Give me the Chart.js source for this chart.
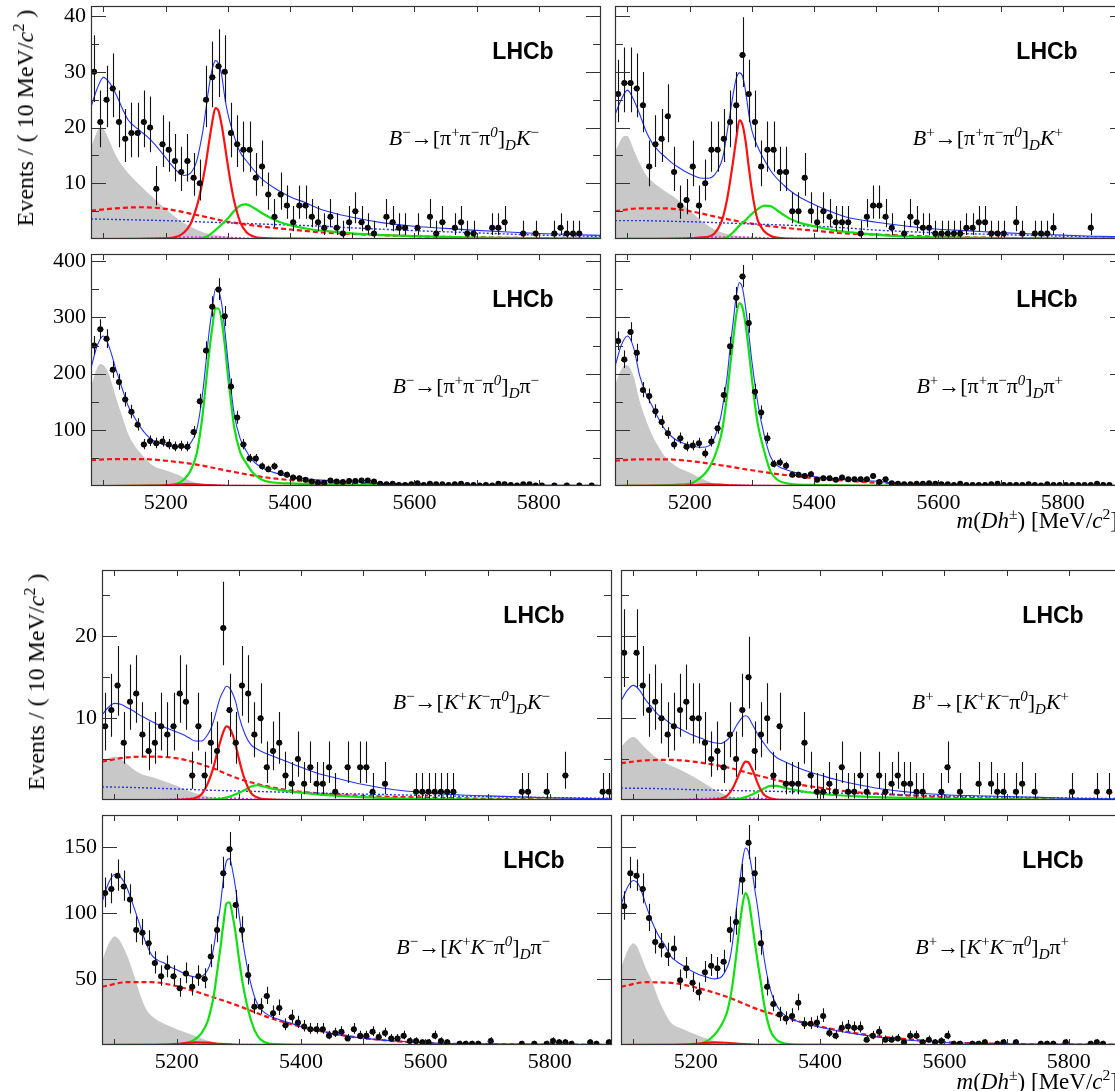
<!DOCTYPE html>
<html><head><meta charset="utf-8">
<script src="https://cdn.jsdelivr.net/npm/chart.js@4.4.1/dist/chart.umd.min.js"></script>
<style>
html,body{margin:0;padding:0;background:#fff;}
body{width:1115px;height:1091px;overflow:hidden;position:relative;}
canvas{position:absolute;}
.t{position:absolute;font-family:'Liberation Serif','Times New Roman',serif;font-size:22px;color:#000;white-space:nowrap;line-height:26px;}
.t sup{font-size:68%;vertical-align:0.55em;line-height:0;}
.t sub{font-size:68%;vertical-align:-0.35em;line-height:0;}
.big{font-size:24px;}
.mid{font-size:23px;}
.lhcb{position:absolute;font-family:'Liberation Sans',Arial,sans-serif;font-weight:bold;font-size:23px;color:#000;transform:translate(-50%,-50%);white-space:nowrap;}
.ytitle{transform:translate(-50%,-50%) rotate(-90deg);}
.rt{transform:translate(-100%,-50%);}
</style></head><body>
<script>
// ---------------- DATA ----------------
const binCenters = [5085,5095,5105,5115,5125,5135,5145,5155,5165,5175,5185,5195,5205,5215,5225,5235,5245,5255,5265,5275,5285,5295,5305,5315,5325,5335,5345,5355,5365,5375,5385,5395,5405,5415,5425,5435,5445,5455,5465,5475,5485,5495,5505,5515,5525,5535,5545,5555,5565,5575,5585,5595,5605,5615,5625,5635,5645,5655,5665,5675,5685,5695,5705,5715,5725,5735,5745,5755,5765,5775,5785,5795,5805,5815,5825,5835,5845,5855,5865,5875,5885,5895];
const xTickValues = [5100,5200,5300,5400,5500,5600,5700,5800];
const xLabelValues = [5200,5400,5600,5800];

// event counts per 10 MeV bin (null = empty bin)
const p1Counts = [30,21,25,27,21,18,19,19,21,20, 9,17,16,14,12,14,11,10,25,29, 31,30,19,17,16,16,11,13,8,4, 8,6,3,6,6,4,3,2,4,2, 1,3,5,3,2,1,null,4,3,2, 2,null,2,null,4,1,3,null,2,3, 1,1,null,null,2,2,3,null,null,1, null,1,null,null,1,2,1,1,1,null, null,null];
const p2Counts = [26,28,28,27,24,13,17,18,22,12, 6,7,13,6,10,16,16,18,21,24, 33,26,21,13,16,16,12,12,5,5, 11,5,3,5,4,3,3,3,null,1, 4,6,6,4,2,null,1,4,3,2, 2,1,1,1,1,1,2,2,3,3, 1,1,1,null,3,1,null,1,1,1, 2,null,null,null,null,null,2,null,null,null, null,null];
const p3Counts = [250,279,262,207,185,154,132,109,74,80, 76,79,74,70,71,70,96,151,241,319, 350,302,177,122,74,49,49,35,30,35, 23,20,15,14,11,8,6,6,10,8, 7,9,9,10,10,8,4,3,4,2, 2,3,5,2,4,3,3,2,3,4, 2,2,1,2,1,4,3,2,1,3, 3,1,1,null,1,null,1,null,1,null, 1,null];
const p4Counts = [258,225,274,237,171,160,133,114,94,74, 85,70,72,76,58,79,103,162,249,335, 373,290,168,131,85,39,42,36,20,20, 18,21,11,14,14,11,15,12,12,12, 12,18,7,12,5,4,3,3,4,4, 5,4,3,3,2,4,2,2,2,2, 3,4,2,2,2,2,3,2,1,3, 2,2,2,2,2,2,2,4,2,2, null,null];
const p5Counts = [9,11,14,7,12,13,8,6,7,9, 8,9,13,12,3,9,3,7,6,21, 11,7,14,13,8,10,4,6,7,3, 2,5,2,4,2,2,4,1,null,4, null,4,4,1,null,2,null,null,null,null, 1,1,1,1,1,1,1,null,null,null, null,null,null,null,null,null,null,1,1,null, null,1,null,null,3,null,null,null,null,null, 1,1];
const p6Counts = [18,null,18,14,11,12,10,8,9,11, 12,10,10,7,5,6,4,8,5,11, 15,6,8,10,3,9,2,2,2,7, 3,1,1,2,1,4,1,1,3,1, null,3,1,2,3,2,2,1,1,null, null,1,4,null,1,null,null,2,null,2, 1,1,null,1,2,null,1,null,null,null, null,null,1,null,null,null,1,null,1,null, null,null];
const p7Counts = [115,118,128,120,110,87,85,77,62,52, 59,52,43,54,44,52,50,67,87,130, 148,106,87,53,29,29,37,24,28,15, 21,17,14,12,12,12,7,9,10,5, 12,7,7,10,6,9,5,5,7,3, 3,2,2,7,3,2,null,1,1,1, 1,null,3,null,null,null,null,1,null,1, null,1,3,2,2,1,null,null,2,1, null,2];
const p8Counts = [105,130,128,118,96,78,75,68,73,49, 58,47,40,55,60,58,63,87,93,125, 153,130,77,44,31,23,20,22,32,16, 16,17,22,9,7,13,14,13,13,4, 7,10,4,4,5,2,7,7,2,4, 2,3,7,1,1,null,1,1,2,null, 1,2,null,2,null,null,null,1,1,1, null,2,null,null,null,1,2,1,null,null, null,null];

// fit curves at these masses
const curveX = [5080,5090,5100,5110,5120,5130,5140,5150,5160,5170,5180,5190,5200,5210,5220,5230,5240,5250,5255,5260,5265,5270,5275,5280,5285,5290,5295,5300,5310,5320,5330,5340,5350,5360,5380,5400,5425,5450,5500,5550,5600,5650,5700,5750,5800,5850,5900];
const p1Total = [23.7,27,29,28,26,23.5,21.3,20.2,19.3,18.4,17.3,16,14.6,13.2,12,11.4,11.8,14, 16.5,19.5,23.5,27.5,30.5,32,31.5,29.5,25.5,22.5, 18.5,15.5,14,12.6,11.3,10.3, 8.8,7.6, 6.5,5.3, 3.9,2.9,2.3,1.9,1.55,1.25,1.0,0.8,0.65];
const p2Total = [22.3,25,26.7,25,22.3,19.3,17.2,15.8,14.8,13.8,13.0,12.3,11.7,11.2,10.9,10.9,11.5,13.5, 15.5,19,22.5,26,28.8,29.8,29.2,26.5,22.5,19.5, 16.4,14.2,12.3,10.9,9.8,8.8, 7.3,6.2, 5.0,4.0, 3.0,2.3,1.75,1.45,1.15,0.9,0.7,0.5,0.4];
const p3Total = [210,250,267,245,208,174,142,122,104,90,81,76,73,71,70,70,76,100, 130,170,222,275,315,350,348,325,280,225, 130,84,62,45,36,30, 22,17, 13,10.5, 7.5,4.5,3.3,2.6,2.0,1.6,1.3,1.1,1.0];
const p4Total = [213,250,267,246,195,164,142,120,101,89,81,76,73,70,69,71,86,123, 155,192,245,292,338,362,352,318,272,223, 145,90,52,37,31,27, 21,17, 13.5,11, 8.5,3.2,2.4,2.1,1.8,1.6,1.4,1.3,1.2];
const p5Total = [10.4,11.3,11.8,11.7,11.3,10.9,10.4,10.0,9.6,9.2,8.9,8.6,8.3,8.0,7.6,7.2,7.2,8.0, 8.7,9.8,11.2,12.5,13.3,13.9,13.7,13.0,12.0,10.3, 8.0,6.7,6.2,5.8,5.5,5.2, 4.6,4.0, 3.3,2.8, 1.9,1.25,0.9,0.65,0.5,0.38,0.28,0.2,0.14];
const p6Total = [12.1,13.4,14.0,13.4,12.2,11.3,10.4,9.9,9.3,8.9,8.5,8.1,7.8,7.5,7.2,7.0,6.9,7.3, 7.7,8.3,9.0,9.6,10.1,10.3,10.1,9.4,8.7,8.0, 6.9,5.9,5.2,4.8,4.45,4.1, 3.5,3.05, 2.5,2.05, 1.35,0.92,0.65,0.52,0.42,0.32,0.22,0.15,0.1];
const p7Total = [108,122,129,127,119,106,92,78,68,64,62,59,57,54.5,52.5,51.5,52,57, 63,75,90,104,125,139,141,132,118,100, 68,45,31,25,22,20, 17,14, 11.2,8.6, 5.2,3.0,1.6,1.1,0.9,0.75,0.65,0.55,0.5];
const p8Total = [106,119,124.5,120,106,93,83,76,67,63,60,57,54.5,52.5,51,50,51,58, 65,80,101,120,138,149,146,134,118,103, 66,42,30,24,20.5,18.5, 15.5,13.5, 11,9, 5.6,3.4,1.9,1.3,1.0,0.8,0.7,0.6,0.5];

const sigGrid = [5080,5200,5220,5230,5240,5250,5255,5260,5265,5270,5275,5280,5285,5290,5295,5300,5305,5310,5320,5330,5340,5360,5400,5500,5900];
const p1Sig = [0,0.1,0.5,1.2,2.7,5.8,8.0,10.7,13.8,17.5,21.0,23.5,23.0,20.5,17.0,13.2,9.8,6.9,3.0,1.2,0.5,0.15,0.05,0,0];
const p2Sig = [0,0.1,0.3,0.4,1.0,2.8,4.5,7.0,10.3,14.0,18.0,21.3,20.5,17.5,13.0,8.8,5.5,3.2,1.4,0.6,0.25,0.08,0.02,0,0];
const p3Sig = [0,1,5,12,27,58,90,132,185,238,282,316,316,295,252,198,150,106,60,40,24,9,4.5,1.5,0];
const p4Sig = [0,4,17,30,52,87,118,160,212,260,305,325,318,287,242,193,145,108,62,26,12,4,2,0.5,0];
const p5Sig = [0,0,0.1,0.25,0.7,2.0,3.0,4.2,5.7,7.1,8.3,9.0,8.8,8.0,6.7,5.1,3.6,2.4,0.8,0.3,0.1,0.03,0,0,0];
const p6Sig = [0,0,0,0.05,0.15,0.5,0.9,1.5,2.3,3.2,4.1,4.7,4.6,3.9,3.0,2.0,1.2,0.65,0.2,0.06,0.02,0,0,0,0];
const p7Sig = [0,0.3,2,4.5,9,18,27,38,55,72,91,107,108,98,84,66,50,37,18,7,2.5,0.6,0.1,0,0];
const p8Sig = [0,0.5,3.5,7.5,14,24,34,48,67,87,105,115,110,95,78,62,47,31,11,4,1.5,0.3,0.1,0,0];

const misGrid = [5080,5240,5260,5270,5280,5290,5300,5310,5320,5330,5340,5350,5360,5380,5400,5430,5460,5500,5550,5600,5700,5900];
const p1Mis = [0,0,0.2,0.7,1.6,2.6,3.7,5.0,6.0,6.2,5.7,5.0,4.3,3.2,2.5,1.8,1.4,1.0,0.7,0.5,0.25,0.1];
const p2Mis = [0,0,0.3,1.2,2.4,3.4,4.5,5.4,6.0,5.9,5.2,4.4,3.7,2.8,2.3,1.6,1.2,0.8,0.45,0.3,0.15,0.05];
const p5Mis = [0,0,0.05,0.15,0.3,0.55,0.85,1.25,1.65,1.8,1.65,1.45,1.3,1.05,0.9,0.65,0.5,0.35,0.2,0.12,0.06,0.02];
const p6Mis = [0,0,0.05,0.15,0.35,0.65,1.0,1.4,1.72,1.72,1.55,1.38,1.2,0.95,0.78,0.58,0.45,0.33,0.22,0.15,0.07,0.02];

const combGrid = [5080,5120,5160,5200,5250,5300,5350,5400,5450,5500,5600,5700,5800,5900];
const p1Comb = [5.1,5.5,5.7,5.4,4.3,3.1,2.3,1.7,1.2,0.9,0.5,0.3,0.15,0.1];
const p2Comb = [5.0,5.5,5.5,5.0,3.8,2.75,2.05,1.5,1.0,0.8,0.4,0.2,0.1,0.05];
const p3Comb = [46,48,48,45,38,27,17,10.5,7,4.5,2,1,0.5,0.3];
const p4Comb = [45,47.5,47.5,44.5,37,28,20,14,9.5,6,2.5,1.2,0.7,0.4];
const p5Comb = [4.7,5.2,5.3,5.1,4.1,2.6,1.6,1.0,0.7,0.5,0.3,0.15,0.08,0.05];
const p6Comb = [4.5,4.85,4.9,4.65,4.0,3.0,2.1,1.5,1.0,0.75,0.33,0.15,0.08,0.04];
const p7Comb = [44,47.5,47.5,44.5,37.5,29.5,20.5,13.8,8.8,5.2,1.5,0.6,0.3,0.15];
const p8Comb = [44,47.5,47,43.5,36.5,27,20,14,9.5,6.3,2.2,0.8,0.4,0.2];

const p1Dot = [3.6,3.5,3.4,3.3,3.1,2.9,2.7,2.5,2.3,2.0,1.5,1.1,0.7,0.45];
const p2Dot = [3.3,3.3,3.2,3.1,2.9,2.7,2.5,2.3,2.0,1.6,1.1,0.8,0.5,0.3];
const p3Dot = [0.5,0.5,0.5,0.5,0.5,0.5,0.4,0.4,0.4,0.3,0.3,0.2,0.2,0.2];
const p4Dot = [0.5,0.5,0.5,0.5,0.5,0.5,0.4,0.4,0.4,0.3,0.3,0.2,0.2,0.2];
const p5Dot = [1.6,1.55,1.45,1.35,1.2,1.1,1.0,0.9,0.8,0.72,0.55,0.4,0.3,0.2];
const p6Dot = [1.45,1.42,1.35,1.25,1.17,1.1,1.02,0.92,0.8,0.7,0.5,0.36,0.25,0.15];
const p7Dot = [0.3,0.3,0.3,0.3,0.3,0.3,0.3,0.2,0.2,0.2,0.2,0.1,0.1,0.1];
const p8Dot = [0.3,0.3,0.3,0.3,0.3,0.3,0.3,0.2,0.2,0.2,0.2,0.1,0.1,0.1];

const prGrid = [5080,5085,5090,5095,5100,5105,5110,5120,5130,5140,5150,5160,5180,5200,5220,5240,5260,5280,5300,5320];
const p1PR = [16.3,18,19.3,20,19.8,18.8,17.5,15,13.2,11.8,10.6,9.5,7.4,5.4,3.6,2.2,1.2,0.7,0.4,0];
const p2PR = [15.5,16.8,17.9,18.5,18.5,17.5,16.0,13.5,11.5,10.3,9.4,8.6,7.1,5.1,3.2,1.7,0.9,0.5,0.25,0];
const p3PR = [175,195,210,217,215,208,195,158,124,92,72,58,36,28,20,9,3,1,0,0];
const p4PR = [178,195,207,214,215,208,195,150,117,90,70,53,34,24,13,4,1,0,0,0];
const p5PR = [4.6,4.9,5.1,5.2,5.3,5.2,5.0,4.4,3.8,3.3,3.0,2.8,2.3,1.75,1.1,0.6,0.3,0.1,0.03,0];
const p6PR = [6.4,6.9,7.3,7.6,7.7,7.5,7.1,6.3,5.6,5.0,4.6,4.2,3.5,2.7,1.75,0.9,0.35,0.12,0.03,0];
const p7PR = [63,70,76,80,82,81,78,68,55,40,28,22,16,12,8.5,5,2,0.5,0,0];
const p8PR = [58,65,71,75,77,75,70,58,48,35,25,17,12,8,4.5,1.5,0.5,0,0,0];

const magGrid = [5080,5180,5220,5260,5300,5340,5900];
const p1Mag = [0,0.1,0.3,0.35,0.3,0.1,0];
const p2Mag = [0,0.1,0.3,0.35,0.3,0.1,0];
const p3Mag = [0,0.5,1,1.2,1,0.5,0];
const p4Mag = [0,0.5,1,1.2,1,0.5,0];
const p5Mag = [0,0.05,0.2,0.25,0.2,0.05,0];
const p6Mag = [0,0.05,0.2,0.25,0.2,0.05,0];
const p7Mag = [0,0.2,0.4,0.5,0.4,0.2,0];
const p8Mag = [0,0.2,0.4,0.5,0.4,0.2,0];

const smallGrid = [5080,5180,5210,5230,5250,5270,5300,5900];
const p3Small = [0,0.5,2,3.5,3,1.5,0.3,0];
const p4Small = [0,0.5,1.8,3,2.5,1,0.2,0];
const p7Small = [0,0.3,1.2,2,1.8,0.8,0.2,0];
const p8Small = [0,0.3,1.3,2,1.7,0.8,0.2,0];

// ---------------- LAYOUT ----------------
const PW = 510, PADL = 60, PADT = 30, PADR = 12, XAXH = 40;
const panels = [
 {left:91, top:6,   h:233, ymax:41.8, yMajor:[10,20,30,40], yMinor:[5,15,25,35], showX:false, showY:true,  kind:'DK', counts:p1Counts, total:p1Total, sig:p1Sig, mis:p1Mis, comb:p1Comb, dot:p1Dot, pr:p1PR, mag:p1Mag,
  label:'<i>B</i><sup>−</sup>→[π<sup>+</sup>π<sup>−</sup>π<sup><i>0</i></sup>]<sub><i>D</i></sub><i>K</i><sup>−</sup>'},
 {left:615, top:6,  h:233, ymax:41.8, yMajor:[10,20,30,40], yMinor:[5,15,25,35], showX:false, showY:false, kind:'DK', counts:p2Counts, total:p2Total, sig:p2Sig, mis:p2Mis, comb:p2Comb, dot:p2Dot, pr:p2PR, mag:p2Mag,
  label:'<i>B</i><sup>+</sup>→[π<sup>+</sup>π<sup>−</sup>π<sup><i>0</i></sup>]<sub><i>D</i></sub><i>K</i><sup>+</sup>'},
 {left:91, top:254, h:232, ymax:413, yMajor:[100,200,300,400], yMinor:[50,150,250,350], showX:true, showY:true, kind:'Dpi', counts:p3Counts, total:p3Total, sig:p3Sig, small:p3Small, comb:p3Comb, dot:p3Dot, pr:p3PR, mag:p3Mag,
  label:'<i>B</i><sup>−</sup>→[π<sup>+</sup>π<sup>−</sup>π<sup><i>0</i></sup>]<sub><i>D</i></sub>π<sup>−</sup>'},
 {left:615, top:254, h:232, ymax:413, yMajor:[100,200,300,400], yMinor:[50,150,250,350], showX:true, showY:false, kind:'Dpi', counts:p4Counts, total:p4Total, sig:p4Sig, small:p4Small, comb:p4Comb, dot:p4Dot, pr:p4PR, mag:p4Mag,
  label:'<i>B</i><sup>+</sup>→[π<sup>+</sup>π<sup>−</sup>π<sup><i>0</i></sup>]<sub><i>D</i></sub>π<sup>+</sup>'},
 {left:102, top:570, h:230, ymax:28.1, yMajor:[10,20], yMinor:[5,15,25], showX:false, showY:true, kind:'DK', counts:p5Counts, total:p5Total, sig:p5Sig, mis:p5Mis, comb:p5Comb, dot:p5Dot, pr:p5PR, mag:p5Mag,
  label:'<i>B</i><sup>−</sup>→[<i>K</i><sup>+</sup><i>K</i><sup>−</sup>π<sup><i>0</i></sup>]<sub><i>D</i></sub><i>K</i><sup>−</sup>'},
 {left:621, top:570, h:230, ymax:28.1, yMajor:[10,20], yMinor:[5,15,25], showX:false, showY:false, kind:'DK', counts:p6Counts, total:p6Total, sig:p6Sig, mis:p6Mis, comb:p6Comb, dot:p6Dot, pr:p6PR, mag:p6Mag,
  label:'<i>B</i><sup>+</sup>→[<i>K</i><sup>+</sup><i>K</i><sup>−</sup>π<sup><i>0</i></sup>]<sub><i>D</i></sub><i>K</i><sup>+</sup>'},
 {left:102, top:815, h:230, ymax:174, yMajor:[50,100,150], yMinor:[], showX:true, showY:true, kind:'Dpi', counts:p7Counts, total:p7Total, sig:p7Sig, small:p7Small, comb:p7Comb, dot:p7Dot, pr:p7PR, mag:p7Mag,
  label:'<i>B</i><sup>−</sup>→[<i>K</i><sup>+</sup><i>K</i><sup>−</sup>π<sup><i>0</i></sup>]<sub><i>D</i></sub>π<sup>−</sup>'},
 {left:621, top:815, h:230, ymax:174, yMajor:[50,100,150], yMinor:[], showX:true, showY:false, kind:'Dpi', counts:p8Counts, total:p8Total, sig:p8Sig, small:p8Small, comb:p8Comb, dot:p8Dot, pr:p8PR, mag:p8Mag,
  label:'<i>B</i><sup>+</sup>→[<i>K</i><sup>+</sup><i>K</i><sup>−</sup>π<sup><i>0</i></sup>]<sub><i>D</i></sub>π<sup>+</sup>'}
];

function poissonInterval(n){
  const lo = n <= 0 ? 0 : n * Math.pow(1 - 1/(9*n) - 1/(3*Math.sqrt(n)), 3);
  const m = n + 1;
  const hi = m * Math.pow(1 - 1/(9*m) + 1/(3*Math.sqrt(m)), 3);
  return [lo, hi];
}
const zip = (xs, ys) => xs.map((x,i) => ({x:x, y:ys[i]}));
function curve(xs, ys, opt){
  return Object.assign({type:'line', data:zip(xs,ys), pointRadius:0, pointHoverRadius:0, fill:false,
    cubicInterpolationMode:'monotone', borderWidth:1}, opt);
}
function makePlugin(P){
  return {
    id:'rootFrame',
    afterDatasetsDraw(chart){
      const ctx = chart.ctx, a = chart.chartArea, xs = chart.scales.x, ys = chart.scales.y;
      ctx.save();
      ctx.beginPath(); ctx.rect(a.left, a.top, a.right-a.left, a.bottom-a.top); ctx.clip();
      chart.data.datasets.forEach(ds => {
        if (!ds.errorBars) return;
        ctx.strokeStyle = '#111'; ctx.lineWidth = 1.1;
        ctx.beginPath();
        ds.data.forEach(p => {
          const iv = poissonInterval(p.y);
          const px = Math.round(xs.getPixelForValue(p.x)) + 0.5;
          const py = Math.round(ys.getPixelForValue(p.y)) + 0.5;
          ctx.moveTo(px, ys.getPixelForValue(iv[0])); ctx.lineTo(px, ys.getPixelForValue(iv[1]));
          ctx.moveTo(xs.getPixelForValue(p.x-5), py); ctx.lineTo(xs.getPixelForValue(p.x+5), py);
        });
        ctx.stroke();
      });
      ctx.restore();
      ctx.save();
      ctx.strokeStyle = '#333'; ctx.lineWidth = 1;
      ctx.beginPath();
      xTickValues.forEach(v => {
        const px = Math.round(xs.getPixelForValue(v)) + 0.5;
        ctx.moveTo(px, a.bottom); ctx.lineTo(px, a.bottom-6);
        ctx.moveTo(px, a.top); ctx.lineTo(px, a.top+6);
      });
      const yt = (list, len) => list.forEach(v => {
        const py = Math.round(ys.getPixelForValue(v)) + 0.5;
        ctx.moveTo(a.left, py); ctx.lineTo(a.left+len, py);
        ctx.moveTo(a.right, py); ctx.lineTo(a.right-len, py);
      });
      yt(P.yMajor, 15); yt(P.yMinor, 8);
      ctx.stroke();
      ctx.lineWidth = 1.2;
      ctx.strokeRect(a.left+0.5, a.top+0.5, a.right-a.left-1, a.bottom-a.top-1);
      ctx.restore();
    }
  };
}

const BLUE = '#2233ff', RED = '#ff1010', GREEN = '#10e010', GREY = '#c8c8c8', MAG = '#ff20ff';
const tickFont = {family:"'Liberation Serif', 'Times New Roman', serif", size:22};

panels.forEach(P => {
  const W = PADL + PW + PADR, H = PADT + P.h + XAXH;
  const cv = document.createElement('canvas');
  cv.width = W; cv.height = H;
  cv.style.left = (P.left - PADL) + 'px'; cv.style.top = (P.top - PADT) + 'px';
  cv.style.width = W + 'px'; cv.style.height = H + 'px';
  document.body.appendChild(cv);

  const ds = [];
  ds.push({type:'scatter', data: binCenters.map((x,i) => ({x:x, y:P.counts[i]})).filter(p => p.y !== null),
    pointRadius:3, pointHoverRadius:3, backgroundColor:'#000', borderColor:'#000', borderWidth:0, errorBars:true, order:0});
  ds.push(curve(curveX, P.total, {borderColor:BLUE, borderWidth:1.1, order:1}));
  if (P.kind === 'DK') {
    ds.push(curve(sigGrid, P.sig, {borderColor:RED, borderWidth:2.2, order:2}));
    ds.push(curve(misGrid, P.mis, {borderColor:GREEN, borderWidth:2.2, order:3}));
  } else {
    ds.push(curve(sigGrid, P.sig, {borderColor:GREEN, borderWidth:2.2, order:3}));
    ds.push(curve(smallGrid, P.small, {borderColor:RED, borderWidth:2.2, order:2}));
  }
  ds.push(curve(magGrid, P.mag, {borderColor:MAG, borderWidth:1.6, borderDash:[2,2], order:4}));
  ds.push(curve(combGrid, P.dot, {borderColor:BLUE, borderWidth:1.4, borderDash:[2,2], order:5}));
  ds.push(curve(combGrid, P.comb, {borderColor:RED, borderWidth:2.2, borderDash:[5,3], order:6}));
  ds.push(curve(prGrid, P.pr, {borderColor:'rgba(0,0,0,0)', borderWidth:0, backgroundColor:GREY, fill:'origin', order:7}));

  new Chart(cv, {
    type:'line',
    data:{datasets:ds},
    options:{
      responsive:false, animation:false, devicePixelRatio:1, events:[],
      layout:{padding:{left:0, right:PADR, top:PADT, bottom:0}},
      plugins:{legend:{display:false}, tooltip:{enabled:false}},
      scales:{
        x:{type:'linear', min:5080, max:5900,
           afterBuildTicks: s => { s.ticks = xTickValues.map(v => ({value:v})); },
           afterFit: s => { s.height = XAXH; },
           grid:{display:false, drawTicks:false}, border:{display:false},
           ticks:{display:P.showX, autoSkip:false, maxRotation:0, minRotation:0, padding:4, color:'#000', font:tickFont,
                  callback: v => xLabelValues.includes(v) ? String(v) : ''}},
        y:{type:'linear', min:0, max:P.ymax,
           afterBuildTicks: s => { s.ticks = P.yMajor.map(v => ({value:v})); },
           afterFit: s => { s.width = PADL; },
           grid:{display:false, drawTicks:false}, border:{display:false},
           ticks:{display:P.showY, autoSkip:false, padding:5, color:'#000', font:tickFont, callback: v => String(v)}}
      }
    },
    plugins:[makePlugin(P)]
  });
});

// ---------------- TEXT ----------------
function addText(cls, html, x, y){
  const d = document.createElement('div');
  d.className = cls; d.innerHTML = html;
  d.style.left = x + 'px'; d.style.top = y + 'px';
  document.body.appendChild(d);
}
panels.forEach(P => {
  addText('lhcb', 'LHCb', P.left + 432, P.top + 45);
  addText('t rt', P.label, P.left + 448, P.top + 132);
});
const yTitle = 'Events / ( 10 MeV/<i>c</i><sup>2</sup> )';
addText('t big ytitle', yTitle, 25, 118);
addText('t big ytitle', yTitle, 36, 682);
const xTitle = '<i>m</i>(<i>Dh</i><sup>±</sup>) [MeV/<i>c</i><sup>2</sup>]';
addText('t mid rt', xTitle, 1118, 521);
addText('t mid rt', xTitle, 1118, 1082);
</script>
</body></html>
